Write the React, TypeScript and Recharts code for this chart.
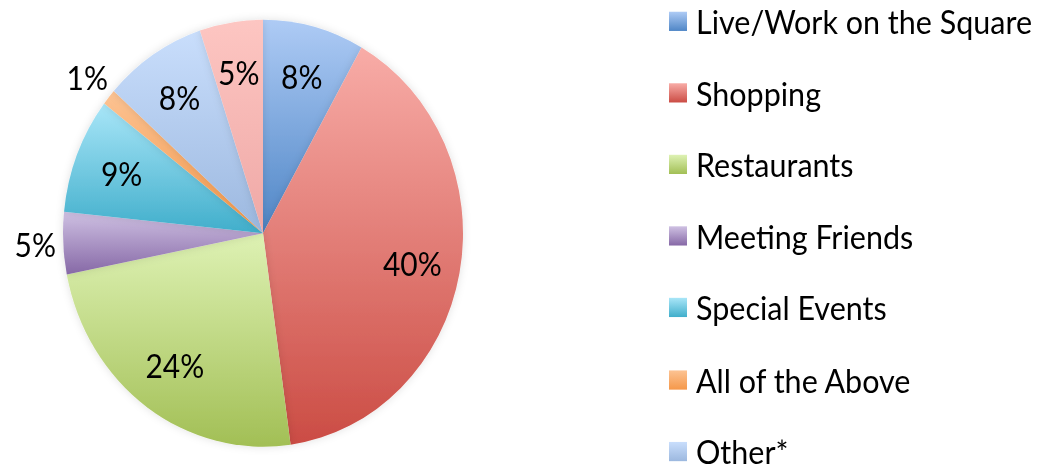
import React from 'react';
import { PieChart, Pie, Cell, Legend } from 'recharts';

const categories = [
  'Live/Work on the Square',
  'Shopping',
  'Restaurants',
  'Meeting Friends',
  'Special Events',
  'All of the Above',
  'Other*',
  'No Answer',
];
const values = [8.2, 39.6, 24.1, 4.7, 8.8, 1.2, 8.3, 5.1];
const legendCount = 7;

// top (light) and bottom (dark) of each slice's gradient
const topColors = ['#aecbf5', '#f8aca7', '#def2b4', '#cfc1e3', '#a9e6f8', '#fcc393', '#c9defc', '#fdc6c2'];
const bottomColors = ['#4f86c6', '#cb4c44', '#a2bf55', '#8668a6', '#40aecb', '#f5984a', '#9cb8df', '#efa8a6'];

const data = categories.map((name, i) => ({ name, value: values[i] }));

const FONT = 'Lato, "Open Sans", sans-serif';
const RAD = Math.PI / 180;

const renderLabel = (props: any) => {
  const { cx, cy, midAngle, outerRadius, value } = props;
  const r = value < 5 ? outerRadius * 1.14 : outerRadius * 0.76;
  const x = cx + r * Math.cos(-midAngle * RAD);
  const y = cy + r * Math.sin(-midAngle * RAD);
  return (
    <text x={x} y={y} textAnchor="middle" dominantBaseline="central" fill="#000" fontSize={30} fontFamily={FONT}>
      {Math.round(value)}%
    </text>
  );
};

const renderLegend = () => (
  <div style={{ fontFamily: FONT, fontSize: 30.5, color: '#000' }}>
    {data.slice(0, legendCount).map((d, i) => (
      <div key={d.name} style={{ display: 'flex', alignItems: 'center', height: 67.2, whiteSpace: 'nowrap' }}>
        <span
          style={{
            flex: 'none',
            width: 18,
            height: 18,
            marginRight: 9,
            background: `linear-gradient(${topColors[i]}, ${bottomColors[i]})`,
          }}
        />
        <span>{d.name}</span>
      </div>
    ))}
  </div>
);

export default function App() {
  return (
    <div style={{ position: 'fixed', left: 0, top: 0, width: 1038, height: 465, background: '#fff', overflow: 'hidden' }}>
      <div style={{ transform: 'scaleY(1.0675)', transformOrigin: 'top left' }}>
        <PieChart width={1038} height={436} margin={{ top: 0, right: 0, bottom: 0, left: 0 }}>
          <defs>
            {topColors.map((c, i) => (
              <linearGradient key={i} id={`g${i}`} x1="0" y1="0" x2="0" y2="1">
                <stop offset="0%" stopColor={c} />
                <stop offset="100%" stopColor={bottomColors[i]} />
              </linearGradient>
            ))}
            <filter id="shadow" x="-10%" y="-10%" width="120%" height="120%">
              <feDropShadow dx="0" dy="0" stdDeviation="4" floodColor="#000" floodOpacity="0.12" />
            </filter>
          </defs>
          <Pie
            data={data}
            dataKey="value"
            nameKey="name"
            cx={263}
            cy={218.5}
            outerRadius={200}
            startAngle={90}
            endAngle={-270}
            stroke="none"
            label={renderLabel}
            labelLine={false}
            isAnimationActive={false}
            style={{ filter: 'url(#shadow)' }}
          >
            {data.map((d, i) => (
              <Cell key={d.name} fill={`url(#g${i})`} />
            ))}
          </Pie>
          <Legend
            content={renderLegend}
            layout="vertical"
            wrapperStyle={{ left: 669, top: -14, width: 369 }}
          />
        </PieChart>
      </div>
    </div>
  );
}
